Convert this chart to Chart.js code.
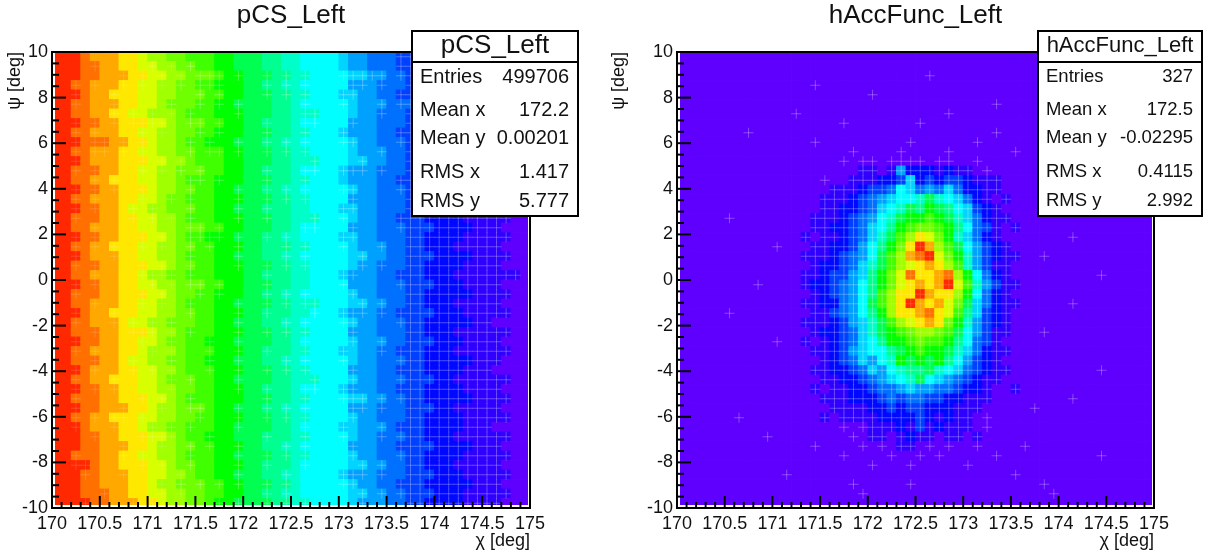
<!DOCTYPE html>
<html>
<head>
<meta charset="utf-8">
<script src="https://cdn.jsdelivr.net/npm/chart.js@4"></script>
<style>
  body { margin: 0; background: #fff; }
  canvas { position: absolute; top: 0; }
  #pcsChart { left: 0; }
  #accChart { left: 604px; }
</style>
</head>
<body>
<canvas id="pcsChart" width="604" height="558"></canvas>
<canvas id="accChart" width="604" height="558"></canvas>
<script>
// Contour levels, violet (0) up to red (19). Last one (k) is an empty looking bin that still shows the mesh
const levelColors = ['#5f00ff', '#3000ff', '#0008ff', '#0040ff', '#0070ff', '#00a0ff', '#00d4ff', '#00ffff', '#00ffc8', '#00ff90',
    '#00ff50', '#00ff00', '#40ff00', '#70ff00', '#a0ff00', '#d8ff00', '#ffe800', '#ffa800', '#ff7000', '#ff2800', '#5f00ff'];

const chiTicks = [170, 170.5, 171, 171.5, 172, 172.5, 173, 173.5, 174, 174.5, 175];
const psiTicks = [-10, -8, -6, -4, -2, 0, 2, 4, 6, 8, 10];

const statNames = ['Entries', 'Mean x', 'Mean y', 'RMS x', 'RMS y'];
const pcsStats = ['499706', '172.2', '0.00201', '1.417', '5.777'];
const accStats = ['327', '172.5', '-0.02295', '0.4115', '2.992'];

const chiBins = 50;

// One string per psi row (top to bottom), one base-21 level per chi bin
const pcsRows = [
    'jjjihhhggfeeddcccbbaaa9988777765544433322221111100',
    'jjjiihhggffeeddccbbaaa9988777765544433322221111000',
    'jjjiihhhggffeedddcbbaaa998877776655443332222111110',
    'jjiihhhggffeeddccbbbaa9988777775554443322221111100',
    'jjjihhgggffeedddccbbaaa998877766554433322211111000',
    'jjiihhhggffedddccbbaaaa998777776555444332222111100',
    'jjiihhggffeeedcccbbbaaa998887776554443322221111110',
    'jjjiihhgggffedddccbbaa9998777775554443332211111100',
    'jjiihhhggffeeddccbbbaaa998877765554433322221111100',
    'jjjiiihhggfeedccbbbaaa9988777776554443322222111000',
    'jjiihhhggffeeddcccbbaaa998877776555443332211111100',
    'jjjihhhgggffeedcccbbaaa998887776655443322222111100',
    'jjiiihhggffeedddccbbaa9998777765554443332221111000',
    'jjiihhgggffeedcccbbbaaa998877765554433322211111110',
    'jjjiihhgggfeeddccbbaaa9988777776554443322222111100',
    'jjiihhhggffeddcccbbbaaa998877775554443332221111100',
    'jjjiihhgffeedddccbbaaa9998877766554443322211110000',
    'jjiiihhggffeedcccbbbaaa998887776554433322221111100',
    'jjiihhhggffeedddccbbaaa998777775554443332222111000',
    'jjjiihhgggffedccbbbaaa9988777766554443322221111100',
    'jjiihhgggffeeddccbbbaa9998877776555443322211111000',
    'jjjihhhggffeedcccbbaaa9988777776655443332222111100',
    'jjiiihhgggffeddccbbbaaa998877776554443322221111000',
    'jjiihhhggfeeddcccbbbaa9998877765554433322211111110',
    'jjjiihhggffeedddccbbaaa998877775554443332221111000',
    'jjiiihhgggffeddccbbbaa9988777776554443322222111100',
    'jjiihhhggffeedcccbbaaaa998887776655443322211111000',
    'jjjihhgggffeeddccbbbaa9998877765554433332221111100',
    'jjiihhhgffeedddccbbaaa9988777776554443322222110000',
    'jjiiihhgggfeedcccbbbaaa998877775554443322211111100',
    'jjjiihhggffeddccbbbaaaa998777776555443332221111000',
    'jjiihhhggfeeedcccbbbaa9998877766554433322211111100',
    'jjiiihhgffeeddccbbbaaa9988777776554443322222111000',
    'jjjihhhggffeedcccbbbaaa998877775554433322221110000',
    'jjiihhgggffedddccbbaaaa998887776554443332211111100',
    'jjjiihhggffeeddccbbbaa9998777765554433322221111000',
    'jjiiihhgggffedcccbbbaaa998877776655443322222111100',
    'jjjiihhhggfeedddcbbaaa9988777775554443332211111000',
    'jjiihhgggffeeddccbbbaaa998877776554443322221111100',
    'jjjihhhggfeeddcccbbaaaa998777766555433322221110000',
    'jjjiihhgggffedccbbbaaa9998877776554443322211111100',
    'jjjiihhhggfeeddccbbbaa9988777775554433332222111000',
    'jjiiihhggffeedcccbbaaaa998877776554443322221111100',
    'jjjjihhgggffeddccbbbaa9998777776655443322211111000',
    'jjjiihhhggffeedccbbaaa9988777765554443332221111100',
    'jjjiihhhggfeedddccbbaaa998777776554433322222111000',
    'jjjiiihhggffeeddccbbaa9988777776655443332221111100',
    'jjjjiihhhggfeeddcbbaaaa998877776555443322221111000'
];

const accRows = [
    '00000000000000000000000000000000000000000000000000',
    '000000000000000000000000000000000000000k0000000000',
    '00000000000000000000000000k00000000000000000000000',
    '00000000000000k00000000000000000000000000000000000',
    '00000000000000000000k0000000000000000000000k000000',
    '000000000000000000000000000000000k0000000000000000',
    '000000000000k000000000000000k000000000000000000000',
    '00000000000000000k0000000k000000000000000k00000000',
    '0000000k0000000000000000000000000k0000000000000000',
    '00000000000000k000000000k000000k000000000000000000',
    '000000000000000000k0000k0000k000000k00000000000000',
    '00000000000000000k0kk0kkkk0kk00k000000k00000000000',
    '00000000000000000001101522212110k00000000000000000',
    '000000000000000k00111223623233211100000000000k0000',
    '00000000000000001112334764546422110000k00000000000',
    '00000000000000011123456778a87642101000000000000000',
    '000000000000000112234678a9ba976321000000k000000000',
    '00000k00000000111234578abbcba864211000000000000000',
    '00000000000000112234679bcddcb974310100000000000000',
    '0000000000000101123468acegfdb864210000000k00000000',
    '0000000000k00011223579bdgjheca75321000000000000000',
    '000000000000011123457acehijfdb85321100k00000000000',
    '000000000000001223468acefghgec85311000000000000000',
    '000000000000011233569bdfigghieb7421000000000k00000',
    '00000000k000012234579bdfghghjfc8531100000000000000',
    '000000000000001234579ceggjhggeb7421000000000000000',
    '00000000000001122457acegjhghfda6421100000k00000000',
    '00000k000000001134579begghigfc96321000000000000000',
    '000000000000011123568acefghgdb85321000000000000000',
    '000000000000001223468abcdeedca75311000k00000000000',
    '0000000000k00101234679bbcdccb974310000000000000000',
    '00000000000000112356779abcbba864211000000000000000',
    '00000000000000012346578babab9753210000000000000000',
    '00000000000000112234657899a87643211000000000k00000',
    '0000000000000001122345678a765432110000000000000000',
    '00000000000000101122344565544322100100000000000000',
    '00000000000000011122234344332211100000000k00000000',
    '0000000000000000111122323322211100000k000000000000',
    '000000k0000000010111122223212110k00000000000000000',
    '00000000000000000k0k111213121110k00000000000000000',
    '000000000k00000000k0110121101101000000000000000000',
    '00000000000000k0000k0k0110k0k00k0000k0000000000000',
    '00000000000000000k0000k00k0k00000k0000000000k00000',
    '00000000000000000000k000k00000k0000000000000000000',
    '00000000000k00000000000000000000000k00000000000000',
    '000000000000000000k00000k0000000000000k00000000000',
    '0000000000000000000k0000000000000000000k0000000000',
    '00000000000000000000000000000000000000000000000000'
];

// Bin centres come from the axis ranges, levels come from the rows above
function cellsFrom(rows) {
    const cells = [];
    rows.forEach((row, r) => {
        for (let c = 0; c < chiBins; c++) {
            cells.push({
                x: 170 + (c + 0.5) * 5 / chiBins,
                y: 10 - (r + 0.5) * 20 / rows.length,
                v: parseInt(row[c], 21),
                r: r,
                c: c
            });
        }
    });
    return cells;
}

// The mesh shows up where the contours are busy or the level is low
function meshFrom(rows, cells) {
    return cells.filter(p => {
        const above = rows[p.r - 1] ? parseInt(rows[p.r - 1][p.c], 21) : p.v;
        return p.v > 0 && (p.v <= 3 || above !== p.v || rows === accRows);
    });
}

// ROOT style frame: inward ticks, top and right edges, stats box
const rootFrame = {
    id: 'rootFrame',
    afterDatasetsDraw(chart, args, opts) {
        const ctx = chart.ctx;
        const area = chart.chartArea;
        const sx = chart.scales.x;
        const sy = chart.scales.y;

        ctx.save();
        ctx.strokeStyle = '#000';
        ctx.lineWidth = 2;
        sx.ticks.forEach(t => {
            const px = sx.getPixelForValue(t.value);
            const len = chiTicks.some(v => Math.abs(v - t.value) < 1e-6) ? 12 : 6;
            ctx.beginPath();
            ctx.moveTo(px, area.bottom);
            ctx.lineTo(px, area.bottom - len);
            ctx.stroke();
        });
        sy.ticks.forEach(t => {
            const py = sy.getPixelForValue(t.value);
            const len = psiTicks.some(v => Math.abs(v - t.value) < 1e-6) ? 14 : 7;
            ctx.beginPath();
            ctx.moveTo(area.left, py);
            ctx.lineTo(area.left + len, py);
            ctx.stroke();
        });
        ctx.beginPath();
        ctx.moveTo(area.left, area.top);
        ctx.lineTo(area.right, area.top);
        ctx.lineTo(area.right, area.bottom);
        ctx.stroke();

        // stats box
        const b = opts.box;
        ctx.fillStyle = '#fff';
        ctx.fillRect(b.x, 31, b.w, 185);
        ctx.strokeRect(b.x, 31, b.w, 185);
        ctx.beginPath();
        ctx.moveTo(b.x, 62);
        ctx.lineTo(b.x + b.w, 62);
        ctx.stroke();
        ctx.fillStyle = '#111';
        ctx.textBaseline = 'middle';
        ctx.textAlign = 'center';
        ctx.font = b.titleSize + 'px "Liberation Sans"';
        ctx.fillText(opts.title, b.x + b.w / 2, 46);
        ctx.font = b.textSize + 'px "Liberation Sans"';
        const rowY = [77, 110, 138, 172, 201];
        statNames.forEach((name, i) => {
            ctx.textAlign = 'left';
            ctx.fillText(name, b.x + 8, rowY[i]);
            ctx.textAlign = 'right';
            ctx.fillText(opts.stats[i], b.x + b.w - 9, rowY[i]);
        });
        ctx.restore();
    }
};

function makeChart(id, name, rows, stats, yWidth, rightPad, box) {
    const tickFont = { family: '"Liberation Sans"', size: 18 };
    const cells = cellsFrom(rows);
    const plotClip = { left: -3, top: 0, right: -2, bottom: -3 };
    return new Chart(document.getElementById(id), {
        type: 'scatter',
        data: {
            datasets: [{
                // drawn last so it stays on top
                order: 0,
                data: meshFrom(rows, cells),
                pointStyle: 'cross',
                pointRadius: 5,
                pointBorderWidth: 1,
                pointBorderColor: c => {
                    const v = c.raw.v;
                    return (v >= 14 && v <= 19) ? 'rgba(255,255,255,0.14)' : 'rgba(255,255,255,0.28)';
                },
                clip: plotClip
            }, {
                order: 1,
                data: cells,
                pointStyle: 'rect',
                pointRadius: 7.3,
                pointBorderWidth: 0,
                pointBackgroundColor: c => levelColors[c.raw.v],
                clip: plotClip
            }]
        },
        options: {
            responsive: false,
            animation: false,
            events: [],
            layout: { padding: { left: 0, right: rightPad, top: 0, bottom: 0 } },
            plugins: {
                legend: { display: false },
                tooltip: { enabled: false },
                title: {
                    display: true,
                    text: name,
                    fullSize: false,
                    color: '#111',
                    font: { family: '"Liberation Sans"', size: 26, weight: 'normal' },
                    padding: { top: 0, bottom: 20.8 }
                },
                rootFrame: { title: name, stats: stats, box: box }
            },
            scales: {
                x: {
                    type: 'linear',
                    min: 170,
                    max: 175,
                    afterFit: s => { s.height = 50; },
                    grid: { drawOnChartArea: false, drawTicks: false },
                    border: { color: '#000', width: 2 },
                    ticks: {
                        stepSize: 0.1,
                        autoSkip: false,
                        maxRotation: 0,
                        padding: 5,
                        color: '#111',
                        font: tickFont,
                        callback: v => chiTicks.find(t => Math.abs(t - v) < 1e-6) ?? ''
                    },
                    title: {
                        display: true,
                        text: '\u03c7 [deg]',
                        align: 'end',
                        color: '#111',
                        font: tickFont,
                        padding: { top: 0, bottom: 6 }
                    }
                },
                y: {
                    min: -10,
                    max: 10,
                    afterFit: s => { s.width = yWidth; },
                    grid: { drawOnChartArea: false, drawTicks: false },
                    border: { color: '#000', width: 2 },
                    ticks: {
                        stepSize: 0.5,
                        autoSkip: false,
                        padding: 4,
                        color: '#111',
                        font: tickFont,
                        callback: v => psiTicks.find(t => Math.abs(t - v) < 1e-6) ?? ''
                    },
                    title: {
                        display: true,
                        text: '\u03c8 [deg]',
                        align: 'end',
                        color: '#111',
                        font: tickFont,
                        padding: { top: 4, bottom: 0 }
                    }
                }
            }
        },
        plugins: [rootFrame]
    });
}

makeChart('pcsChart', 'pCS_Left', pcsRows, pcsStats, 52, 74, { x: 412, w: 166, titleSize: 26, textSize: 20 });
makeChart('accChart', 'hAccFunc_Left', accRows, accStats, 73, 54, { x: 434, w: 164, titleSize: 22, textSize: 18.5 });
</script>
</body>
</html>
